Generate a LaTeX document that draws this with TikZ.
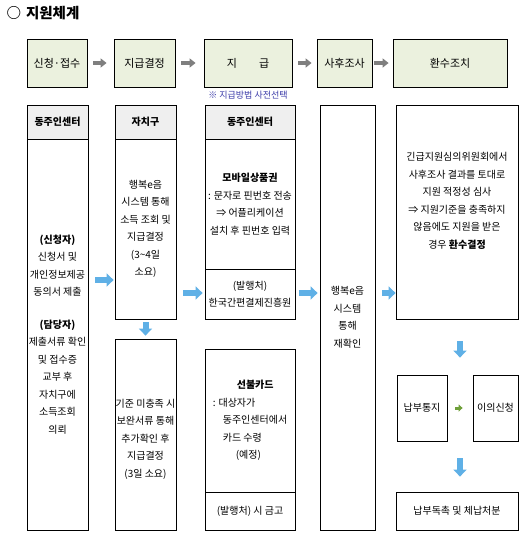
\documentclass[tikz,border=0pt]{standalone}
\usepackage{fontspec}
\setmainfont{Noto Sans CJK KR}
\usetikzlibrary{arrows.meta}

\definecolor{stagegreen}{HTML}{EBF1DE}
\definecolor{headgray}{HTML}{EFEFEF}
\definecolor{arrowblue}{HTML}{5FB0E6}
\definecolor{arrowgray}{HTML}{7F7F7F}
\definecolor{arrowgreen}{HTML}{6FA03A}
\definecolor{noteblue}{HTML}{3A3AA8}

\begin{document}
\begin{tikzpicture}[
    x=1pt, y=-1pt,
    stage/.style={draw, line width=0.8pt, fill=stagegreen, minimum height=48pt, inner sep=1pt, font=\fontsize{11}{13}\selectfont},
    cell/.style={draw, line width=0.8pt, inner sep=0pt, align=center, font=\fontsize{10}{17.5}\selectfont},
    head/.style={cell, fill=headgray, minimum height=34pt, font=\fontsize{10}{12}\selectfont\bfseries},
    flow/.style={arrowgray, line width=4pt, -{Triangle[length=6pt,width=9pt]}},
    push/.style={arrowblue, line width=6pt, -{Triangle[length=7pt,width=13pt]}},
    turn/.style={arrowgreen, line width=3pt, -{Triangle[length=4pt,width=7pt]}}
  ]
  \useasboundingbox (0,0) rectangle (529,544);

  \node (title) at (3, 13) [anchor=west, font=\fontsize{14.5}{16}\selectfont\bfseries] {○\hspace{5pt}지원체계};

  \node (s1) at (57, 63)    [stage, minimum width=60pt] {신청·접수};
  \node (s2) at (144.5, 63) [stage, minimum width=61pt] {지급결정};
  \node (s3) at (248, 63)   [stage, minimum width=88pt] {지\hspace{22pt}급};
  \node (s4) at (344.5, 63) [stage, minimum width=55pt] {사후조사};
  \node (s5) at (450, 63)   [stage, minimum width=114pt] {환수조치};
  \node (note) at (248, 95) [noteblue, font=\fontsize{9}{10}\selectfont] {※ 지급방법 사전선택};

  \draw [flow, shorten <=6pt, shorten >=7pt] (s1) -- (s2);
  \draw [flow, shorten <=6pt, shorten >=8pt] (s2) -- (s3);
  \draw [flow, shorten <=6pt, shorten >=5pt] (s3) -- (s4);
  \draw [flow, shorten <=2pt, shorten >=4pt] (s4) -- (s5);

  \node (c1h) at (57.5, 122)   [head, minimum width=61pt] {동주인센터};
  \node (c1b) at (57.5, 334.5) [cell, minimum width=61pt, minimum height=391pt] {%
    \textbf{(신청자)}\\ 신청서 및\\ 개인정보제공\\ 동의서 제출\\[15pt]
    \textbf{(담당자)}\\ 제출서류 확인\\ 및 접수증\\ 교부 후\\ 자치구에\\ 소득조회\\ 의뢰
  };

  \node (c2h) at (145.5, 122)  [head, minimum width=61pt] {자치구};
  \node (c2b) at (145.5, 229)  [cell, minimum width=61pt, minimum height=180pt] {%
    행복e음\\ 시스템 통해\\ 소득 조회 및\\ 지급결정\\ (3\textasciitilde4일\\ 소요)
  };
  \node (c2c) at (145.5, 434.5) [cell, minimum width=61pt, minimum height=191pt] {%
    \\ 기준 미충족 시\\ 보완서류 통해\\ 추가확인 후\\ 지급결정\\ (3일 소요)
  };

  \node (c3h) at (250, 122)   [head, minimum width=90pt] {동주인센터};
  \node (c3b) at (250, 204)   [cell, minimum width=90pt, minimum height=130pt] {%
    \textbf{모바일상품권}\\ : 문자로 핀번호 전송\\ ⇒ 어플리케이션\\ 설치 후 핀번호 입력
  };
  \node (c3p) at (250, 294)   [cell, minimum width=90pt, minimum height=50pt, font=\fontsize{10}{17}\selectfont] {%
    (발행처)\\ 한국간편결제진흥원
  };
  \node (c3c) at (250, 420.5) [cell, minimum width=90pt, minimum height=143pt, align=left] {%
    \hspace*{24pt}\textbf{선불카드}\\ : 대상자가\\ \hspace*{10pt}동주인센터에서\\
    \hspace*{10pt}카드 수령\\ \hspace*{23pt}(예정)
  };
  \node (c3q) at (250, 511)   [cell, minimum width=90pt, minimum height=38pt] {(발행처) 시 금고};

  \node (c4) at (347.5, 317.5) [cell, minimum width=55pt, minimum height=425pt] {%
    행복e음\\ 시스템\\ 통해\\ 재확인
  };

  \node (c5) at (457, 212) [cell, minimum width=122pt, minimum height=214pt] {%
    긴급지원심의위원회에서\\ 사후조사 결과를 토대로\\ 지원 적정성 심사\\
    ⇒ 지원기준을 충족하지\\ 않음에도 지원을 받은\\ 경우 \textbf{환수결정}\\[6pt]
  };
  \node (r1) at (422, 408)   [cell, minimum width=50pt, minimum height=66pt] {납부통지};
  \node (r2) at (495.5, 408) [cell, minimum width=45pt, minimum height=66pt] {이의신청};
  \node (r3) at (457, 511)   [cell, minimum width=122pt, minimum height=38pt] {납부독촉 및 체납처분};
  \coordinate (mid) at (460, 0);

  \draw [push, shorten <=7pt, shorten >=1pt] (c1b.east |- 0,280) -- (c2b.west |- 0,280);
  \draw [push, shorten <=7pt, shorten >=2pt] (c2b.east |- 0,293) -- (c3p.west |- 0,293);
  \draw [push, shorten <=4pt, shorten >=2pt] (c3p.east |- 0,293) -- (c4.west |- 0,293);
  \draw [push, shorten <=7pt, shorten >=0pt] (c4.east |- 0,293) -- (c5.west |- 0,293);
  \draw [push, shorten <=3pt, shorten >=3pt] (c2b) -- (c2c);
  \draw [push, shorten <=22pt, shorten >=17pt] (c5.south -| mid) -- (r1.north -| mid);
  \draw [push, shorten <=17pt, shorten >=15pt] (r1.south -| mid) -- (r3.north -| mid);
  \draw [turn, shorten <=8pt, shorten >=10pt] (r1) -- (r2);
\end{tikzpicture}
\end{document}
